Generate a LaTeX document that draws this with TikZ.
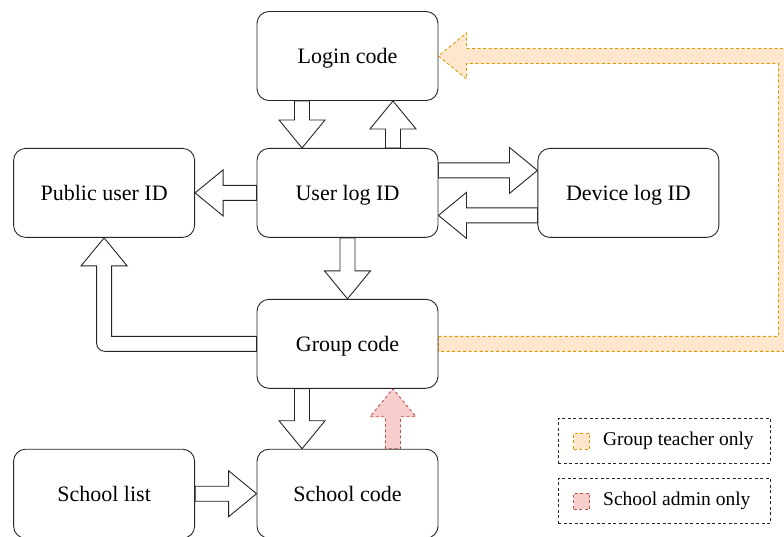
\documentclass[tikz,border=0pt]{standalone}
\usepackage{fontspec}
\setmainfont{Liberation Serif}
\usepackage{xcolor}
\usepackage{tikz}
\usetikzlibrary{positioning, calc, backgrounds}
\definecolor{teachfill}{HTML}{FFE6CC}
\definecolor{teachline}{HTML}{D79B00}
\definecolor{adminfill}{HTML}{F8CECC}
\definecolor{adminline}{HTML}{B85450}

% straight block arrow from #2 to #3
\newcommand{\fatarrow}[3][]{%
    \coordinate (fa-s) at (#2);
    \coordinate (fa-e) at (#3);
    \coordinate (fa-h) at ($(fa-e)!28pt!(fa-s)$);
    \draw[blockarr, #1] ($(fa-s)!7.5pt!90:(fa-e)$) -- ($(fa-h)!7.5pt!90:(fa-e)$)
        -- ($(fa-h)!23pt!90:(fa-e)$) -- (fa-e) -- ($(fa-h)!23pt!-90:(fa-e)$)
        -- ($(fa-h)!7.5pt!-90:(fa-e)$) -- ($(fa-s)!7.5pt!-90:(fa-e)$) -- cycle;
}

\begin{document}
\begin{tikzpicture}[
    x=1pt, y=-1pt,
    box/.style={draw=black!85, line width=0.9pt, rounded corners=12pt, fill=white,
                minimum width=181pt, minimum height=89pt, text depth=0pt,
                font=\fontsize{22}{26}\selectfont},
    blockarr/.style={draw=black!85, fill=white, line width=0.9pt, line join=miter},
    teacharr/.style={draw=teachline, fill=teachfill, dash pattern=on 3pt off 2.5pt},
    adminarr/.style={draw=adminline, fill=adminfill, dash pattern=on 3pt off 2.5pt},
    legendbox/.style={draw=black!85, line width=0.9pt, dash pattern=on 3pt off 2.5pt,
                      minimum width=212pt, minimum height=45pt},
    legendkey/.style={minimum size=16pt, inner sep=0pt, line width=0.9pt,
                      dash pattern=on 3pt off 2.5pt},
    legendtext/.style={font=\fontsize{19.5}{22}\selectfont, inner sep=0pt, anchor=west},
]
    \useasboundingbox (0,0) rectangle (784,536);
    \clip (0,0) rectangle (784,536);

    \node[box] (login) at (347.5,56) {Login code};
    \node[box, below=47pt of login] (userlog) {User log ID};
    \node[box, left=61.5pt of userlog] (public) {Public user ID};
    \node[box, right=99pt of userlog] (device) {Device log ID};
    \node[box, below=61pt of userlog] (group) {Group code};
    \node[box, below=60pt of group] (school) {School code};
    \node[box, left=61.5pt of school] (schoollist) {School list};

    % legend
    \node[legendbox] (leg1) at (664,440.5) {};
    \node[legendbox] (leg2) at (664,500.5) {};
    \node[legendkey, draw=teachline, fill=teachfill] (key1) at (581.5,441) {};
    \node[legendtext, right=13pt of key1] (lab1) {Group teacher only};
    \node[legendkey, draw=adminline, fill=adminfill] (key2) at (581.5,501) {};
    \node[legendtext, right=13pt of key2] (lab2) {School admin only};

    % anchor points on the boxes
    \coordinate (lg1) at ($(login.south west)!.25!(login.south east)$);
    \coordinate (lg3) at ($(login.south west)!.75!(login.south east)$);
    \coordinate (ul1) at ($(userlog.north west)!.25!(userlog.north east)$);
    \coordinate (ul3) at ($(userlog.north west)!.75!(userlog.north east)$);
    \coordinate (ulr1) at ($(userlog.north east)!.25!(userlog.south east)$);
    \coordinate (ulr3) at ($(userlog.north east)!.75!(userlog.south east)$);
    \coordinate (dv1) at ($(device.north west)!.25!(device.south west)$);
    \coordinate (dv3) at ($(device.north west)!.75!(device.south west)$);
    \coordinate (gr1) at ($(group.south west)!.25!(group.south east)$);
    \coordinate (gr3) at ($(group.south west)!.75!(group.south east)$);
    \coordinate (sc1) at ($(school.north west)!.25!(school.north east)$);
    \coordinate (sc3) at ($(school.north west)!.75!(school.north east)$);
    \coordinate (gw1) at ($(group.west)+(0,-7.5)$);
    \coordinate (gw2) at ($(group.west)+(0,7.5)$);
    \coordinate (pb1) at ($(public.south)+(7.5,28)$);
    \coordinate (pb2) at ($(public.south)+(-7.5,28)$);

    \begin{scope}[on background layer]
        \fatarrow{lg1}{ul1}
        \fatarrow{ul3}{lg3}
        \fatarrow{ulr1}{dv1}
        \fatarrow{dv3}{ulr3}
        \fatarrow{userlog.west}{public.east}
        \fatarrow{userlog.south}{group.north}
        \fatarrow{gr1}{sc1}
        \fatarrow[adminarr]{sc3}{gr3}
        \fatarrow{schoollist.east}{school.west}
        % group code to public user id
        \draw[blockarr] (gw1) -| (pb1) -- ++(15.5,0) -- (public.south)
            -- ++(-23,28) -- (pb2)
            [rounded corners=8pt] -- (pb2 |- gw2) [sharp corners] -- (gw2) -- cycle;
        % group code to login code
        \draw[blockarr, teacharr] (gw1 -| group.east) -- ++(340,0)
            |- ($(login.east)+(28,7.5)$) -- ++(0,15.5) -- (login.east)
            -- ++(28,-23) -- ++(0,15.5) -- ++(327,0)
            |- (gw2 -| group.east) -- cycle;
    \end{scope}
\end{tikzpicture}
\end{document}
